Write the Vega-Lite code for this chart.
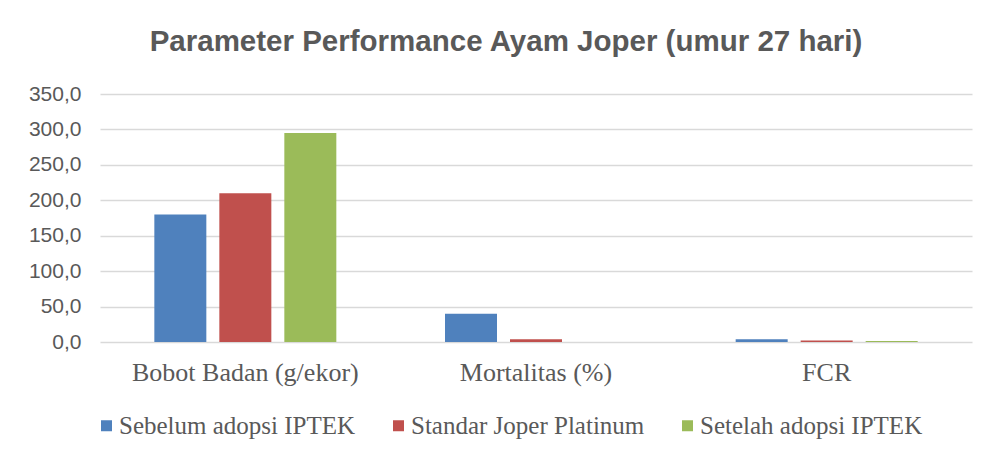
{
  "$schema": "https://vega.github.io/schema/vega-lite/v6.json",
  "width": 872,
  "height": 248,
  "autosize": {"type": "none"},
  "padding": {"left": 100, "top": 94, "right": 20, "bottom": 116},
  "background": "white",
  "config": {
    "locale": {"number": {"decimal": ",", "thousands": ".", "grouping": [3], "currency": ["", ""]}},
    "view": {"stroke": null}
  },
  "title": {
    "text": "Parameter Performance Ayam Joper (umur 27 hari)",
    "font": "Liberation Sans",
    "fontSize": 29.5,
    "fontWeight": "bold",
    "color": "#595959",
    "anchor": "middle",
    "dx": -30,
    "offset": 26
  },
  "data": {
    "values": [
      {"parameter": "Bobot Badan (g/ekor)", "kelompok": "Sebelum adopsi IPTEK", "nilai": 180},
      {"parameter": "Bobot Badan (g/ekor)", "kelompok": "Standar Joper Platinum", "nilai": 210},
      {"parameter": "Bobot Badan (g/ekor)", "kelompok": "Setelah adopsi IPTEK", "nilai": 295},
      {"parameter": "Mortalitas (%)", "kelompok": "Sebelum adopsi IPTEK", "nilai": 40},
      {"parameter": "Mortalitas (%)", "kelompok": "Standar Joper Platinum", "nilai": 4},
      {"parameter": "Mortalitas (%)", "kelompok": "Setelah adopsi IPTEK", "nilai": 0},
      {"parameter": "FCR", "kelompok": "Sebelum adopsi IPTEK", "nilai": 4},
      {"parameter": "FCR", "kelompok": "Standar Joper Platinum", "nilai": 2},
      {"parameter": "FCR", "kelompok": "Setelah adopsi IPTEK", "nilai": 1.5}
    ]
  },
  "mark": {"type": "bar"},
  "encoding": {
    "x": {
      "field": "parameter",
      "type": "nominal",
      "sort": ["Bobot Badan (g/ekor)", "Mortalitas (%)", "FCR"],
      "scale": {"paddingInner": 0, "paddingOuter": 0},
      "axis": {
        "title": null,
        "labelAngle": 0,
        "domain": false,
        "ticks": false,
        "labelFont": "Liberation Serif",
        "labelFontSize": 26,
        "labelColor": "#595959",
        "labelPadding": 17,
        "labelLimit": 400
      }
    },
    "xOffset": {
      "field": "kelompok",
      "type": "nominal",
      "sort": ["Sebelum adopsi IPTEK", "Standar Joper Platinum", "Setelah adopsi IPTEK"],
      "scale": {"paddingInner": 0.2, "paddingOuter": 0.836}
    },
    "y": {
      "field": "nilai",
      "type": "quantitative",
      "scale": {"domain": [0, 350], "nice": false},
      "axis": {
        "title": null,
        "values": [0, 50, 100, 150, 200, 250, 300, 350],
        "format": ".1f",
        "domain": false,
        "ticks": false,
        "grid": true,
        "gridColor": "#d9d9d9",
        "gridWidth": 1.5,
        "labelFont": "Liberation Sans",
        "labelFontSize": 21,
        "labelColor": "#595959",
        "labelPadding": 19
      }
    },
    "color": {
      "field": "kelompok",
      "type": "nominal",
      "sort": ["Sebelum adopsi IPTEK", "Standar Joper Platinum", "Setelah adopsi IPTEK"],
      "scale": {
        "domain": ["Sebelum adopsi IPTEK", "Standar Joper Platinum", "Setelah adopsi IPTEK"],
        "range": ["#4F81BD", "#C0504D", "#9BBB59"]
      },
      "legend": {
        "title": null,
        "orient": "none",
        "legendX": -6,
        "legendY": 319,
        "padding": 0,
        "direction": "horizontal",
        "columns": 3,
        "columnPadding": 30,
        "symbolType": "square",
        "symbolSize": 121,
        "symbolStrokeWidth": 0,
        "labelFont": "Liberation Serif",
        "labelFontSize": 25,
        "labelColor": "#595959",
        "labelOffset": 0,
        "labelLimit": 400
      }
    }
  }
}
